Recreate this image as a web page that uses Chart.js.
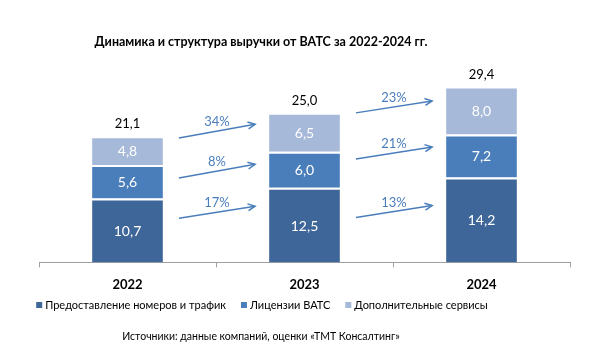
<!DOCTYPE html>
<html>
<head>
<meta charset="utf-8">
<script src="https://cdn.jsdelivr.net/npm/chart.js@4.4.1/dist/chart.umd.min.js"></script>
<style>
    html, body { margin: 0; padding: 0; background: #fff; }
    #wrap { width: 610px; height: 364px; }
</style>
</head>
<body>
<div id="wrap"><canvas id="revChart" width="610" height="364"></canvas></div>
<script>
const years      = ['2022', '2023', '2024'];
const seriesName = ['Предоставление номеров и трафик', 'Лицензии ВАТС', 'Дополнительные сервисы'];
const numbers    = [10.7, 12.5, 14.2];   // Предоставление номеров и трафик
const licenses   = [5.6, 6.0, 7.2];      // Лицензии ВАТС
const services   = [4.8, 6.5, 8.0];      // Дополнительные сервисы
const totals     = [21.1, 25.0, 29.4];
// рост по сегментам между соседними годами, %
const growthNumbers  = [17, 13];
const growthLicenses = [8, 21];
const growthServices = [34, 23];

const titleText  = 'Динамика и структура выручки от ВАТС за 2022-2024 гг.';
const sourceText = 'Источники: данные компаний, оценки «ТМТ Консалтинг»';

const colors = ['#3F6698', '#4A7EBB', '#A7B9D9'];
const arrowColor = '#4A7EBB';
const FONT = 'Lato, "Open Sans", sans-serif';

// высота стрелок в единицах оси (начало, конец) для каждой пары лет
const arrowLevels = [
    [[7.4, 9.4], [14.1, 16.4], [20.8, 23.1]],
    [[7.5, 9.5], [17.3, 19.3], [25.0, 27.0]]
];
const growth = [growthNumbers, growthLicenses, growthServices];

function fmt(v){ return v.toFixed(1).replace('.', ','); }

const decor = {
    id: 'decor',
    afterDraw(chart){
        const ctx = chart.ctx;
        const y = chart.scales.y;
        ctx.save();

        // подписи сегментов
        ctx.textAlign = 'center';
        ctx.textBaseline = 'middle';
        ctx.font = '14px ' + FONT;
        ctx.fillStyle = '#fff';
        chart.data.datasets.forEach((ds, di) => {
            chart.getDatasetMeta(di).data.forEach((bar, i) => {
                ctx.fillText(fmt(ds.data[i]), bar.x, (bar.y + bar.base) / 2 + 1);
            });
        });

        // итоги над столбцами
        ctx.fillStyle = '#000';
        ctx.font = '13px ' + FONT;
        const top = chart.getDatasetMeta(2).data;
        top.forEach((bar, i) => {
            ctx.fillText(fmt(totals[i]), bar.x, y.getPixelForValue(totals[i]) - 12);
        });

        // стрелки роста
        const meta = chart.getDatasetMeta(0).data;
        for (let p = 0; p < years.length - 1; p++) {
            const b0 = meta[p], b1 = meta[p + 1];
            const x0 = b0.x + b0.width / 2 + 16;
            const x1 = b1.x - b1.width / 2 - 14;
            arrowLevels[p].forEach((lv, s) => {
                const y0 = y.getPixelForValue(lv[0]);
                const y1 = y.getPixelForValue(lv[1]);
                ctx.strokeStyle = arrowColor;
                ctx.lineWidth = 1.5;
                ctx.beginPath();
                ctx.moveTo(x0, y0);
                ctx.lineTo(x1, y1);
                ctx.stroke();
                const ang = Math.atan2(y1 - y0, x1 - x0);
                const hl = 8;
                ctx.beginPath();
                ctx.moveTo(x1 - hl * Math.cos(ang - 0.45), y1 - hl * Math.sin(ang - 0.45));
                ctx.lineTo(x1, y1);
                ctx.lineTo(x1 - hl * Math.cos(ang + 0.45), y1 - hl * Math.sin(ang + 0.45));
                ctx.stroke();
                ctx.fillStyle = arrowColor;
                ctx.font = '13px ' + FONT;
                ctx.fillText(growth[s][p] + '%', (x0 + x1) / 2, (y0 + y1) / 2 - 9);
            });
        }

        // заголовок
        ctx.fillStyle = '#000';
        ctx.font = 'bold 12.5px ' + FONT;
        ctx.fillText(titleText, 261, 42);

        // легенда
        ctx.font = '11px ' + FONT;
        const box = 6, gap = 3, itemGap = 15;
        const widths = seriesName.map(t => ctx.measureText(t).width);
        let total = widths.reduce((a, w) => a + box + gap + w, 0) + itemGap * (seriesName.length - 1);
        let lx = 262 - total / 2;
        const ly = 305;
        ctx.textAlign = 'left';
        seriesName.forEach((t, i) => {
            ctx.fillStyle = colors[i];
            ctx.fillRect(lx, ly - 3, box, box);
            ctx.fillStyle = '#000';
            ctx.fillText(t, lx + box + gap, ly);
            lx += box + gap + widths[i] + itemGap;
        });

        // источник
        ctx.textAlign = 'center';
        ctx.font = '10.5px ' + FONT;
        ctx.fillText(sourceText, 261, 337);
        ctx.restore();
    }
};

const values = [numbers, licenses, services];
new Chart(document.getElementById('revChart').getContext('2d'), {
    type: 'bar',
    data: {
        labels: years,
        datasets: values.map((v, i) => ({
            label: seriesName[i],
            data: v,
            backgroundColor: colors[i],
            borderColor: '#fff',
            borderWidth: {top: 2, left: 0, right: 0, bottom: 0},
            borderSkipped: false,
            barPercentage: 0.4,
            categoryPercentage: 1.0
        }))
    },
    options: {
        responsive: false,
        animation: false,
        layout: { padding: { left: 39, right: 40, top: 71, bottom: 61 } },
        plugins: {
            legend: { display: false },
            title: { display: false },
            tooltip: { enabled: false }
        },
        scales: {
            x: {
                stacked: true,
                offset: true,
                grid: { offset: true, drawOnChartArea: false, drawTicks: true, tickLength: 5, color: '#A0A0A0' },
                border: { color: '#A0A0A0' },
                ticks: { color: '#000', padding: 10, font: { family: FONT, size: 13, weight: 'bold' } }
            },
            y: {
                stacked: true,
                display: false,
                min: 0,
                max: 32
            }
        }
    },
    plugins: [decor]
});
</script>
</body>
</html>
